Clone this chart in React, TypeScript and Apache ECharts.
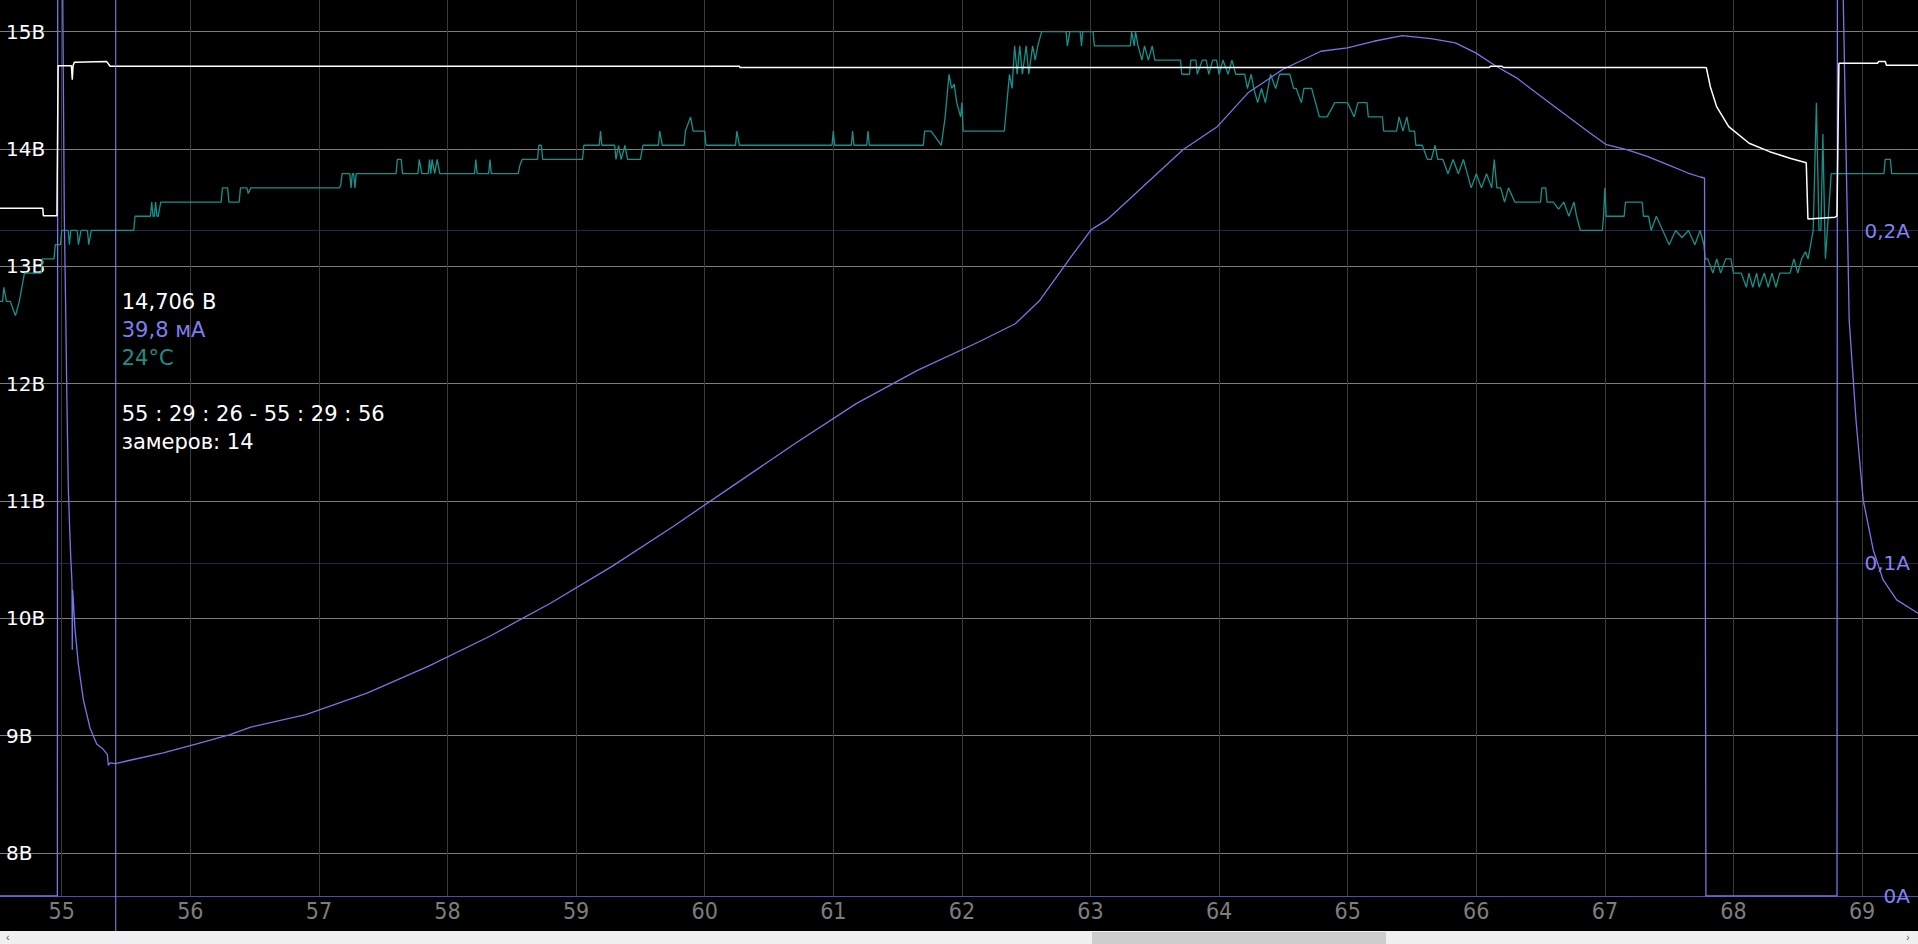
import React, { useEffect, useRef } from 'react';
import * as echarts from 'echarts';

// ---- axis ranges (hours on x; volts, amperes, °C on y) ----
const xRange = [54.52, 69.435];
const voltRange = [7.632, 15.27];
const currRange = [0, 0.2693];
const tempRange = [-22.87, 40.23];

// ---- voltage, V ----
const voltage: [number, number][] = [
  [54.52, 13.494], [54.853, 13.494], [54.857, 13.43], [54.963, 13.43], [54.972, 14.71],
  [55.075, 14.71], [55.082, 14.59], [55.088, 14.71], [55.098, 14.74], [55.35, 14.745],
  [55.376, 14.705], [60.27, 14.705], [60.274, 14.695], [66.1, 14.695], [66.11, 14.705],
  [66.2, 14.705], [66.21, 14.695], [67.77, 14.695], [67.789, 14.693], [67.82, 14.531],
  [67.869, 14.361], [67.963, 14.19], [68.122, 14.049], [68.281, 13.977], [68.439, 13.921],
  [68.566, 13.883], [68.579, 13.403], [68.79, 13.418], [68.805, 13.43], [68.82, 14.731],
  [69.12, 14.731], [69.13, 14.745], [69.18, 14.745], [69.19, 14.714], [69.435, 14.714],
];

// ---- current, A ----
const current: [number, number][] = [
  [54.52, 0], [54.966, 0], [54.97, 0.42], [54.99, 0.4], [55.008, 0.269], [55.02, 0.205],
  [55.033, 0.17], [55.04, 0.15], [55.051, 0.123], [55.062, 0.11], [55.07, 0.102],
  [55.08, 0.094], [55.082, 0.074], [55.085, 0.092], [55.09, 0.089], [55.103, 0.0804],
  [55.129, 0.0697], [55.168, 0.059], [55.22, 0.0505], [55.272, 0.0457], [55.323, 0.0441],
  [55.355, 0.0425], [55.362, 0.0393], [55.376, 0.04], [55.42, 0.0398], [55.531, 0.0408],
  [55.79, 0.043], [56.05, 0.0457], [56.309, 0.0485], [56.464, 0.0507], [56.898, 0.0545],
  [57.374, 0.061], [57.849, 0.069], [58.325, 0.078], [58.8, 0.088], [59.276, 0.099],
  [59.752, 0.111], [60.227, 0.1235], [60.703, 0.136], [61.178, 0.148], [61.654, 0.158],
  [62.13, 0.1665], [62.415, 0.172], [62.605, 0.179], [62.843, 0.1918], [63.006, 0.2003],
  [63.131, 0.2033], [63.719, 0.2243], [63.988, 0.2313], [64.225, 0.2414], [64.494, 0.2484],
  [64.792, 0.2539], [64.997, 0.2549], [65.203, 0.2569], [65.425, 0.2586], [65.648, 0.2577],
  [65.837, 0.2564], [65.996, 0.2534], [66.155, 0.2494], [66.313, 0.2459], [66.504, 0.2403],
  [66.694, 0.2348], [66.884, 0.2293], [67.012, 0.2258], [67.17, 0.2243], [67.329, 0.2223],
  [67.488, 0.2198], [67.646, 0.2173], [67.741, 0.2161], [67.775, 0.2158], [67.786, 0],
  [68.805, 0], [68.81, 0.42], [68.84, 0.4], [68.854, 0.269], [68.9, 0.173], [68.953, 0.143],
  [69.009, 0.119], [69.087, 0.104], [69.164, 0.095], [69.269, 0.089], [69.435, 0.085],
];

// ---- temperature, °C ----
const temperature: [number, number][] = [
  [54.52, 19], [54.54, 19], [54.55, 20], [54.57, 19], [54.6, 19], [54.64, 18], [54.67, 19],
  [54.69, 20], [54.71, 21], [54.84, 21], [54.85, 22], [54.94, 22], [54.95, 23], [54.99, 23],
  [55.0, 24], [55.05, 24], [55.06, 23], [55.07, 24], [55.12, 24], [55.13, 23], [55.15, 24],
  [55.2, 24], [55.21, 23], [55.23, 24], [55.56, 24], [55.57, 25], [55.69, 25], [55.7, 26],
  [55.71, 25], [55.72, 25], [55.73, 26], [55.74, 25], [55.75, 25], [55.77, 26], [56.24, 26],
  [56.25, 27], [56.29, 27], [56.3, 26], [56.38, 26], [56.39, 27], [56.44, 27], [56.45, 26.6],
  [56.47, 27], [57.16, 27], [57.17, 27.2], [57.18, 28], [57.24, 28], [57.25, 27], [57.26, 28],
  [57.27, 28], [57.28, 27], [57.29, 28], [57.6, 28], [57.61, 29], [57.64, 29], [57.65, 28],
  [57.77, 28], [57.78, 29], [57.8, 28], [57.85, 28], [57.86, 29], [57.87, 28], [57.88, 29],
  [57.9, 28], [57.92, 29], [57.94, 28], [58.21, 28], [58.22, 29], [58.23, 28], [58.32, 28],
  [58.33, 29], [58.34, 28], [58.55, 28], [58.56, 28.5], [58.58, 29], [58.61, 29], [58.7, 29],
  [58.71, 30], [58.73, 30], [58.74, 29], [59.05, 29], [59.06, 30], [59.18, 30], [59.19, 31],
  [59.2, 30], [59.3, 30], [59.31, 29], [59.33, 30], [59.35, 29], [59.38, 30], [59.4, 29],
  [59.45, 29], [59.5, 29], [59.52, 30], [59.64, 30], [59.65, 31], [59.67, 30], [59.84, 30],
  [59.85, 31], [59.89, 32], [59.91, 31], [59.93, 31], [60.0, 31], [60.01, 30], [60.24, 30],
  [60.25, 31], [60.27, 30], [60.99, 30], [61.0, 31], [61.01, 30], [61.14, 30], [61.15, 31],
  [61.16, 30], [61.26, 30], [61.27, 31], [61.28, 30], [61.7, 30], [61.71, 31], [61.76, 31],
  [61.8, 30.5], [61.84, 30], [61.87, 32], [61.9, 35], [61.92, 34], [61.94, 34.3], [61.96, 33],
  [61.99, 32], [62.0, 33], [62.01, 31], [62.04, 31], [62.33, 31], [62.35, 33], [62.37, 35],
  [62.39, 34], [62.41, 37], [62.43, 35], [62.45, 37], [62.47, 35], [62.5, 37], [62.52, 35],
  [62.55, 37], [62.57, 36], [62.59, 37], [62.62, 38], [62.81, 38], [62.82, 37], [62.84, 38],
  [62.92, 38], [62.93, 37], [62.94, 38], [63.02, 38], [63.03, 37], [63.31, 37], [63.32, 38],
  [63.34, 37], [63.35, 38], [63.37, 37], [63.4, 36], [63.42, 37], [63.45, 36], [63.48, 37],
  [63.5, 36], [63.7, 36], [63.71, 35], [63.77, 35], [63.78, 36], [63.82, 36], [63.83, 35],
  [63.87, 36], [63.9, 36], [63.92, 35], [63.95, 36], [63.98, 36], [64.0, 35], [64.03, 36],
  [64.07, 35], [64.1, 36], [64.13, 35], [64.2, 35], [64.22, 34], [64.25, 35], [64.27, 34],
  [64.3, 33], [64.33, 34], [64.36, 33], [64.4, 35], [64.44, 34], [64.47, 35], [64.55, 35],
  [64.58, 34], [64.6, 34], [64.64, 33], [64.66, 34], [64.72, 34], [64.75, 33], [64.78, 32],
  [64.84, 32], [64.9, 33], [65.0, 33], [65.05, 32], [65.08, 33], [65.15, 33], [65.16, 32],
  [65.19, 32], [65.27, 32], [65.28, 31], [65.38, 31], [65.4, 32], [65.43, 31], [65.46, 32],
  [65.48, 31], [65.52, 31], [65.53, 30], [65.58, 30], [65.62, 29], [65.65, 29], [65.68, 30],
  [65.7, 29], [65.74, 29], [65.78, 28], [65.82, 29], [65.86, 28], [65.9, 29], [65.93, 28],
  [65.96, 27], [66.0, 28], [66.04, 27], [66.08, 28], [66.12, 27], [66.14, 29], [66.16, 27],
  [66.19, 27], [66.22, 26], [66.25, 27], [66.3, 26], [66.5, 26], [66.51, 27], [66.54, 27],
  [66.55, 26], [66.6, 26], [66.64, 25.5], [66.68, 26], [66.72, 25], [66.76, 26], [66.78, 25],
  [66.81, 24], [66.98, 24], [66.99, 25], [67.0, 27], [67.01, 25], [67.03, 25], [67.15, 25],
  [67.16, 26], [67.29, 26], [67.3, 25], [67.34, 25], [67.36, 24], [67.4, 25], [67.45, 24],
  [67.5, 23], [67.55, 24], [67.6, 23.5], [67.65, 24], [67.7, 23], [67.74, 24], [67.77, 23],
  [67.78, 22], [67.8, 22], [67.84, 21], [67.87, 22], [67.9, 21], [67.94, 22], [67.98, 22],
  [68.0, 21], [68.06, 21], [68.1, 20], [68.12, 21], [68.15, 20], [68.18, 21], [68.2, 20],
  [68.24, 21], [68.27, 20], [68.3, 21], [68.33, 20], [68.36, 21], [68.44, 21], [68.47, 22],
  [68.5, 21], [68.53, 22], [68.56, 22.5], [68.58, 22], [68.6, 23], [68.62, 24], [68.645, 33],
  [68.665, 24], [68.68, 24], [68.695, 30.8], [68.715, 22], [68.76, 28], [68.788, 28],
  [69.17, 28], [69.18, 29], [69.22, 29], [69.23, 28], [69.45, 28],
];

// ---- cursor readout ----
const cursorX = 55.42;
const infoLines: { text: string; color: string; row: number }[] = [
  { text: '14,706 В', color: '#ffffff', row: 0 },
  { text: '39,8 мА', color: '#7e7ef0', row: 1 },
  { text: '24°C', color: '#1f8f86', row: 2 },
  { text: '55 : 29 : 26 - 55 : 29 : 56', color: '#ffffff', row: 4 },
  { text: 'замеров: 14', color: '#ffffff', row: 5 },
];

const COLORS = {
  voltage: '#ffffff',
  current: '#7676e6',
  temp: '#18908a',
  cursor: '#8a8af2',
  vGrid: '#7e7e7e',
  aGrid: '#24244e',
  xGrid: '#3a3a3a',
  xAxis: '#4c4cb4',
};

const isInt = (v: number) => Math.abs(v - Math.round(v)) < 1e-6;

export default function App() {
  const ref = useRef<HTMLDivElement>(null);
  useEffect(() => {
    const chart = echarts.init(ref.current!, null, { renderer: 'svg' });
    const font = "'DejaVu Sans', Verdana, sans-serif";
    const option: any = {
      animation: false,
      backgroundColor: '#000000',
      grid: { left: 0, right: 0, top: 0, bottom: 48, containLabel: false },
      xAxis: {
        type: 'value', min: xRange[0], max: xRange[1], minInterval: 1, maxInterval: 1,
        axisLine: { show: true, onZero: false, lineStyle: { color: COLORS.xAxis, width: 1 } },
        axisTick: { show: false },
        axisLabel: {
          color: '#7d7d7d', fontSize: 23,
          fontFamily: "'Liberation Sans Narrow', 'DejaVu Sans Condensed', 'DejaVu Sans', sans-serif",
          margin: 3, showMinLabel: false, showMaxLabel: false,
          formatter: (v: number) => (isInt(v) ? String(Math.round(v)) : ''),
        },
        splitLine: { show: true, showMinLine: false, showMaxLine: false, lineStyle: { color: COLORS.xGrid, width: 1 } },
      },
      yAxis: [
        {
          type: 'value', position: 'left', min: voltRange[0], max: voltRange[1], minInterval: 1, maxInterval: 1,
          axisLine: { show: false }, axisTick: { show: false },
          axisLabel: {
            inside: true, color: '#ffffff', fontSize: 20, fontFamily: font, margin: 6,
            showMinLabel: false, showMaxLabel: false,
            formatter: (v: number) => (isInt(v) ? Math.round(v) + 'В' : ''),
          },
          splitLine: { show: true, showMinLine: false, showMaxLine: false, lineStyle: { color: COLORS.vGrid, width: 1 } },
        },
        {
          type: 'value', position: 'right', min: currRange[0], max: currRange[1], interval: 0.1,
          axisLine: { show: false }, axisTick: { show: false },
          axisLabel: {
            inside: true, color: '#8282f4', fontSize: 20, fontFamily: font, margin: 8,
            showMaxLabel: false,
            formatter: (v: number) => (v < 1e-9 ? '0А' : v.toFixed(1).replace('.', ',') + 'А'),
          },
          splitLine: { show: true, showMinLine: false, showMaxLine: false, lineStyle: { color: COLORS.aGrid, width: 1 } },
        },
        {
          type: 'value', position: 'left', min: tempRange[0], max: tempRange[1], show: false,
          splitLine: { show: false },
        },
      ],
      series: [
        {
          name: 'temperature', type: 'line', yAxisIndex: 2, data: temperature, showSymbol: false, symbol: 'none',
          silent: true, lineStyle: { color: COLORS.temp, width: 1.3 }, z: 2,
        },
        {
          name: 'current', type: 'line', yAxisIndex: 1, data: current, showSymbol: false, symbol: 'none',
          silent: true, lineStyle: { color: COLORS.current, width: 1.3 }, z: 3,
        },
        {
          name: 'voltage', type: 'line', yAxisIndex: 0, data: voltage, showSymbol: false, symbol: 'none',
          silent: true, lineStyle: { color: COLORS.voltage, width: 1.5 }, z: 4,
        },
      ],
    };
    chart.setOption(option);

    const cx = chart.convertToPixel({ xAxisIndex: 0 }, cursorX) as number;
    const graphic: any[] = [
      { type: 'line', silent: true, z: 10, shape: { x1: cx, y1: 0, x2: cx, y2: 931 }, style: { stroke: COLORS.cursor, lineWidth: 1 } },
      ...infoLines.map((l) => ({
        type: 'text', silent: true, z: 11, x: cx + 6, y: 302 + l.row * 28,
        style: { text: l.text, fill: l.color, font: `21px ${font}`, verticalAlign: 'middle', textVerticalAlign: 'middle' },
      })),
      { type: 'rect', silent: true, z: 12, shape: { x: 0, y: 931, width: 1918, height: 13 }, style: { fill: '#f0f0f0' } },
      { type: 'rect', silent: true, z: 13, shape: { x: 1092, y: 932, width: 294, height: 12 }, style: { fill: '#cdcdcd' } },
      { type: 'text', silent: true, z: 13, x: 6, y: 937, style: { text: '‹', fill: '#606060', font: '11px sans-serif', verticalAlign: 'middle', textVerticalAlign: 'middle' } },
      { type: 'text', silent: true, z: 13, x: 1906, y: 937, style: { text: '›', fill: '#606060', font: '11px sans-serif', verticalAlign: 'middle', textVerticalAlign: 'middle' } },
    ];
    chart.setOption({ graphic });
    return () => chart.dispose();
  }, []);
  return (
    <div
      ref={ref}
      style={{ position: 'fixed', left: 0, top: 0, width: 1918, height: 944, background: '#000' }}
    />
  );
}
